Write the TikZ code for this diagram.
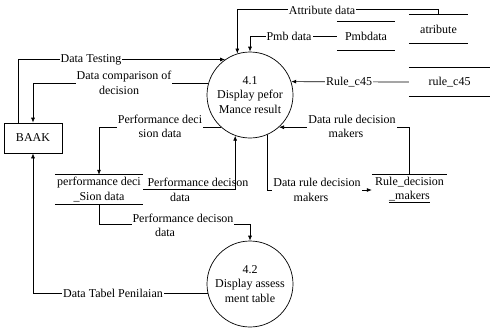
\documentclass[tikz,border=0pt]{standalone}
\usepackage{fontspec}
\setmainfont{Liberation Serif}
\usetikzlibrary{arrows.meta,calc}

\tikzset{
  dfdfont/.style={font=\fontsize{12}{14.5}\selectfont\rmfamily},
  proc/.style={dfdfont, circle, draw, line width=0.7pt, minimum size=86pt, inner sep=0pt, align=center},
  entity/.style={dfdfont, rectangle, draw, line width=0.7pt, minimum width=58pt, minimum height=30pt},
  store/.style={dfdfont, inner sep=0pt, align=center},
  storeline/.style={line width=0.7pt},
  flow/.style={line width=0.7pt, -{Latex[length=5pt,width=4pt]}},
  lbl/.style={dfdfont, fill=white, inner sep=1pt, align=center}
}

\begin{document}
\begin{tikzpicture}[x=1pt,y=-1pt]
\useasboundingbox (0,0) rectangle (490,327);

% processes and entity
\node[proc] (p41) at (250,95) {4.1\\Display pefor\\Mance result};
\node[proc] (p42) at (250,284) {4.2\\Display assess\\ment table};
\node[entity] (baak) at (33,138) {BAAK};

% data stores
\node[store, minimum width=59pt, minimum height=28pt] (atr) at (438.5,29) {atribute};
\draw[storeline] (atr.north west) -- (atr.north east) (atr.south west) -- (atr.south east);

\node[store, minimum width=58pt, minimum height=28pt] (pmb) at (366,36) {Pmbdata};
\draw[storeline] (pmb.north west) -- (pmb.north east) (pmb.south west) -- (pmb.south east);

\node[store, minimum width=81pt, minimum height=29pt] (rc45) at (449.5,82) {rule\_c45};
\draw[storeline] (rc45.north west) -- (rc45.north east) (rc45.south west) -- (rc45.south east);

\node[store, minimum width=88pt, minimum height=29pt] (perf) at (99,189.5) {performance deci\\\_Sion data};
\draw[storeline] (perf.north west) -- (perf.north east) (perf.south west) -- (perf.south east);

\node[store, minimum width=75pt, minimum height=30pt] (rdm) at (409.5,190) {Rule\_decision\\\underline{\_makers}};
\draw[storeline] (rdm.north west) -- (rdm.north east);

% data flows
\draw[flow] (atr.north) -- ++(0,-5) -| (p41.107);
\draw[flow] (pmb.west) -| (p41.north);
\draw[flow] (rc45.west) -- (p41.18);
\draw[flow] (rdm.north) |- (p41.-48);
\draw[flow] (p41.-67) |- (rdm.west);
\draw[flow] ($(baak.north west)+(15,0)$) |- (p41.125);
\draw[flow] (p41.165) -| (baak.north);
\draw[flow] (p41.228) -| (perf.north);
\draw[flow] (perf.south) -- ++(0,20.5) -| (p42.north);
\draw[flow] (p42.192) -| (baak.south);

% flow labels
\node[lbl] (lattr) at (322,10) {Attribute data};
\node[lbl] (lpmb) at (289,36) {Pmb data};
\node[lbl] (lrule) at (349,82) {Rule\_c45};
\node[lbl] (lrdmup) at (352,126.5) {Data rule decision\\makers\hspace*{12pt}};
\node[lbl] (lrdmdn) at (317,190) {Data rule decision\\makers\hspace*{12pt}};
\node[lbl] (ltest) at (91,60) {Data Testing};
\node[lbl] (lcomp) at (124,83) {Data comparison of\\decision\hspace*{10pt}};
\node[lbl] (lperfa) at (160,126.5) {Performance deci\\sion data};
\node[lbl] (lperfb) at (198,190) {Performance decison\\data\hspace*{36pt}};
\node[lbl] (lperfc) at (183,225.5) {Performance decison\\data\hspace*{36pt}};
\node[lbl] (ltabel) at (113,293) {Data Tabel Penilaian};

% this flow runs across its own label
\draw[flow] (perf.east) -| (p41.250);
\end{tikzpicture}
\end{document}
